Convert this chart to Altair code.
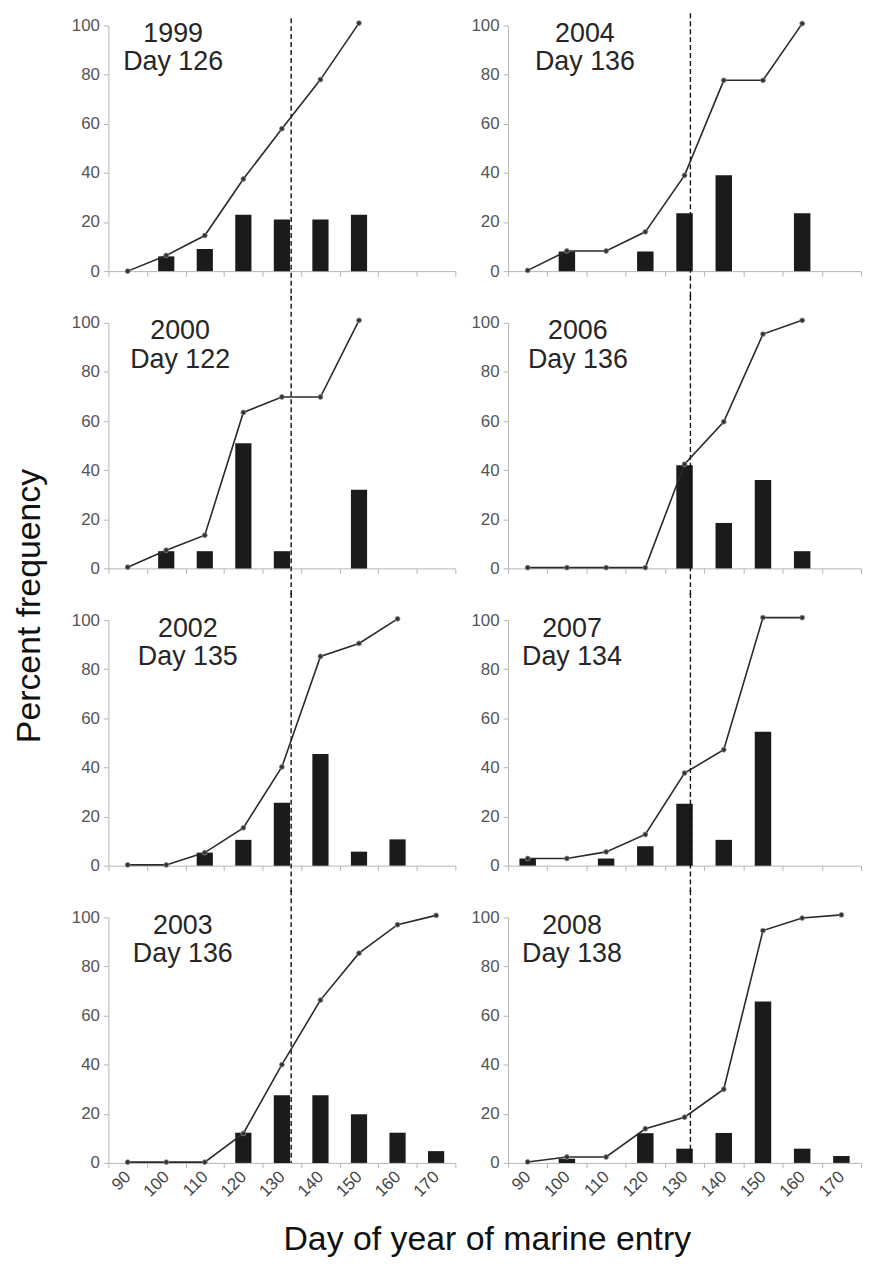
import altair as alt
import pandas as pd

# ---------------- data ----------------
days = [90, 100, 110, 120, 130, 140, 150, 160, 170]
years = ["1999", "2000", "2002", "2003", "2004", "2006", "2007", "2008"]
median_day = ["Day 126", "Day 122", "Day 135", "Day 136", "Day 136", "Day 136", "Day 134", "Day 138"]

N = None
bars_1999 = [N, 6, 9, 23, 21, 21, 23, N, N]
bars_2000 = [N, 7, 7, 51, 7, N, 32, N, N]
bars_2002 = [N, N, 5.3, 10.5, 25.6, 45.5, 5.7, 10.7, N]
bars_2003 = [N, N, N, 12.3, 27.6, 27.6, 19.8, 12.3, 4.8]
bars_2004 = [N, 8, N, 8, 23.6, 39, N, 23.6, N]
bars_2006 = [N, N, N, N, 42, 18.5, 36, 7, N]
bars_2007 = [2.9, N, 2.9, 7.9, 25.2, 10.5, 54.5, N, N]
bars_2008 = [N, 1.7, N, 12.1, 5.8, 12.2, 65.7, 5.8, 2.8]

cum_1999 = [0, 6.4, 14.5, 37.5, 58, 78, 101, N, N]
cum_2000 = [0.5, 7.4, 13.5, 63.5, 69.8, 69.8, 101, N, N]
cum_2002 = [0.3, 0.3, 5.3, 15.4, 40.2, 85.2, 90.5, 100.5, N]
cum_2003 = [0.3, 0.3, 0.3, 12, 40, 66.3, 85.4, 97, 100.8]
cum_2004 = [0.3, 8.2, 8.2, 16, 39, 77.7, 77.7, 100.8, N]
cum_2006 = [0.3, 0.3, 0.3, 0.3, 42.4, 59.7, 95.4, 101, N]
cum_2007 = [2.9, 2.9, 5.6, 12.7, 37.7, 47.2, 101, 101, N]
cum_2008 = [0.4, 2.4, 2.4, 13.9, 18.6, 30, 94.6, 99.7, 101]

bars = dict(zip(years, [bars_1999, bars_2000, bars_2002, bars_2003,
                        bars_2004, bars_2006, bars_2007, bars_2008]))
cum = dict(zip(years, [cum_1999, cum_2000, cum_2002, cum_2003,
                       cum_2004, cum_2006, cum_2007, cum_2008]))

# ---------------- layout constants ----------------
FONT = "Liberation Sans"
PANEL_W = {0: 349, 1: 355}
PANEL_H = 247
ROW_GAP = 52
COL_GAP = 14
label_band = [1.68, 1.86, 2.06, 1.93, 1.96, 1.78, 1.63, 1.63]  # label centre, in bands
rule_frac = {0: 0.74, 1: 0.65}  # dashed median line inside the 130 band
EXT = 11  # extension of dashed line beyond panel (y units)

xscale = alt.Scale(type="band", domain=days, paddingInner=0, paddingOuter=0)
yscale = alt.Scale(domain=[0, 100], nice=False)


def xaxis(bottom):
    return alt.Axis(title=None, tickBand="extent", labels=bottom, labelAngle=-45,
                    labelAlign="right", labelBaseline="middle", labelFontSize=17,
                    labelColor="#444", labelPadding=6, tickSize=5,
                    domainColor="#b5b5b5", tickColor="#b5b5b5", grid=False)


yaxis = alt.Axis(title=None, values=[0, 20, 40, 60, 80, 100], labelFontSize=17,
                 labelColor="#555", tickSize=5, labelPadding=4,
                 domainColor="#b5b5b5", tickColor="#b5b5b5", grid=False)


def panel(i, row, col):
    yr = years[i]
    bottom = row == 3
    bdf = pd.DataFrame({"day": days, "pct": bars[yr]}).dropna()
    cdf = pd.DataFrame({"day": days, "cum": cum[yr]}).dropna()
    xa = xaxis(bottom)

    b = alt.Chart(bdf).mark_bar(width={"band": 0.42}, color="#1b1b1b").encode(
        x=alt.X("day:O", scale=xscale, axis=xa),
        y=alt.Y("pct:Q", scale=yscale, axis=yaxis),
    )
    ln = alt.Chart(cdf).mark_line(color="#2a2a2a", strokeWidth=1.6, clip=False).encode(
        x=alt.X("day:O", scale=xscale, axis=xa),
        y=alt.Y("cum:Q", scale=yscale, axis=yaxis),
    )
    pt = alt.Chart(cdf).mark_circle(size=24, color="#333", opacity=1, clip=False,
                                    stroke="#888", strokeWidth=0.8).encode(
        x=alt.X("day:O", scale=xscale, axis=xa),
        y=alt.Y("cum:Q", scale=yscale, axis=yaxis),
    )
    top = 100 + (3 if col == 0 else 5) if row == 0 else 100 + EXT
    bot = 0 if bottom else -EXT
    rdf = pd.DataFrame({"day": [130], "y1": [top], "y2": [bot]})
    rule = alt.Chart(rdf).mark_rule(color="#111", strokeWidth=1.4,
                                    strokeDash=[5, 3], clip=False).encode(
        x=alt.X("day:O", scale=xscale, axis=xa, bandPosition=rule_frac[col]),
        y=alt.Y("y1:Q", scale=yscale, axis=yaxis),
        y2="y2:Q",
    )
    p = label_band[i]
    idx = int(p)
    frac = round(p - idx, 3)
    tdf = pd.DataFrame({"day": [days[idx], days[idx]], "y": [96.5, 85],
                        "label": [yr, median_day[i]]})
    txt = alt.Chart(tdf).mark_text(font=FONT, fontSize=27, color="#262626",
                                   baseline="middle", align="center").encode(
        x=alt.X("day:O", scale=xscale, axis=xa, bandPosition=frac),
        y=alt.Y("y:Q", scale=yscale, axis=yaxis),
        text="label:N",
    )
    return alt.layer(b, rule, ln, pt, txt).properties(width=PANEL_W[col], height=PANEL_H)


left = alt.vconcat(*[panel(i, r, 0) for r, i in enumerate([0, 1, 2, 3])],
                   spacing=ROW_GAP, bounds="flush")
right = alt.vconcat(*[panel(i, r, 1) for r, i in enumerate([4, 5, 6, 7])],
                    spacing=ROW_GAP, bounds="flush")

grid = alt.hconcat(left, right, spacing=COL_GAP).properties(
    title=alt.TitleParams("Percent frequency", orient="left", anchor="middle",
                          fontSize=34, font=FONT, fontWeight="normal",
                          color="#111", offset=24)
)

chart = alt.vconcat(grid).properties(
    title=alt.TitleParams("Day of year of marine entry", orient="bottom", anchor="middle",
                          fontSize=34, font=FONT, fontWeight="normal",
                          color="#111", offset=24, dx=50),
    padding={"left": 5, "top": 0, "right": 0, "bottom": 0},
).configure_view(stroke=None).configure_axis(labelFont=FONT)

chart.save("out.html", embed_options={"renderer": "svg", "actions": False})
